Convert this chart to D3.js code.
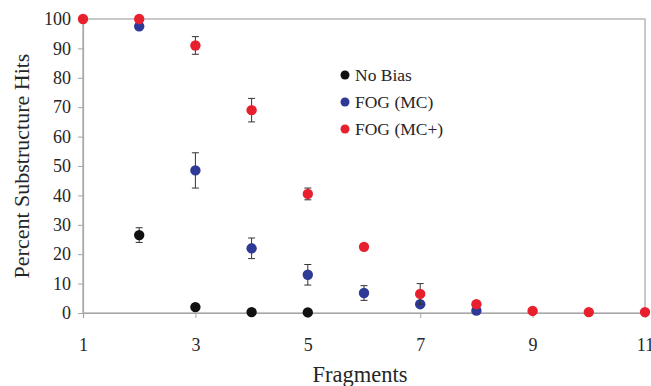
<!DOCTYPE html>
<html>
<head>
<meta charset="utf-8">
<script src="https://cdn.jsdelivr.net/npm/d3@7"></script>
<style>
  body { margin: 0; background: #fff; }
  svg text { font-family: "Liberation Serif", "Times New Roman", serif; }
</style>
</head>
<body>
<div id="chart"></div>
<script>
const xTicks = [1, 3, 5, 7, 9, 11];
const yTicks = [0, 10, 20, 30, 40, 50, 60, 70, 80, 90, 100];

const seriesNames = ["No Bias", "FOG (MC)", "FOG (MC+)"];
const seriesColors = ["#111111", "#2e3a96", "#e8202e"];

// [fragments, value, error]
const noBias = [
  [2, 26.5, 2.5],
  [3, 2, 1],
  [4, 0.3, 0],
  [5, 0.2, 0],
];
const fogMC = [
  [2, 97.5, 1],
  [3, 48.5, 6],
  [4, 22, 3.5],
  [5, 13, 3.5],
  [6, 6.8, 2.5],
  [7, 3, 1],
  [8, 0.8, 0.5],
];
const fogMCPlus = [
  [1, 100, 0],
  [2, 100, 0],
  [3, 91, 3],
  [4, 69, 4],
  [5, 40.5, 2],
  [6, 22.5, 0],
  [7, 6.5, 3.5],
  [8, 3, 0],
  [9, 0.7, 0],
  [10, 0.3, 0],
  [11, 0.3, 0],
];
const allSeries = [noBias, fogMC, fogMCPlus];

const width = 651;
const height = 386;
const margin = { top: 19, right: 6, bottom: 73, left: 83 };
const serif = "'Liberation Serif', 'Times New Roman', serif";

const x = d3.scaleLinear([1, 11], [margin.left, width - margin.right]);
const y = d3.scaleLinear([0, 100], [height - margin.bottom, margin.top]);

const svg = d3.select("#chart").append("svg")
  .attr("width", width)
  .attr("height", height)
  .attr("font-family", serif);

// frame
svg.append("rect")
  .attr("x", x(1))
  .attr("y", y(100))
  .attr("width", x(11) - x(1))
  .attr("height", y(0) - y(100))
  .attr("fill", "none")
  .attr("stroke", "#a6a6a6")
  .attr("stroke-width", 1.2);

const xAxis = svg.append("g")
  .attr("transform", `translate(0,${y(0)})`)
  .call(d3.axisBottom(x).tickValues(xTicks).tickSize(5).tickPadding(20).tickFormat(d3.format("d")));
const yAxis = svg.append("g")
  .attr("transform", `translate(${x(1)},0)`)
  .call(d3.axisLeft(y).tickValues(yTicks).tickSize(5).tickPadding(7));

[xAxis, yAxis].forEach(g => {
  g.attr("font-family", serif).attr("font-size", 18);
  g.select(".domain").attr("stroke", "#a6a6a6").attr("stroke-width", 1.2);
  g.selectAll(".tick line").attr("stroke", "#a6a6a6");
  g.selectAll("text").attr("fill", "#262626");
});

svg.append("text")
  .attr("x", 360)
  .attr("y", 382)
  .attr("text-anchor", "middle")
  .attr("fill", "#262626")
  .attr("font-size", 22.5)
  .text("Fragments");

svg.append("text")
  .attr("transform", `translate(29,166) rotate(-90)`)
  .attr("text-anchor", "middle")
  .attr("fill", "#262626")
  .attr("font-size", 22)
  .text("Percent Substructure Hits");

allSeries.forEach((data, i) => {
  const g = svg.append("g");
  const bars = g.selectAll("g.err")
    .data(data.filter(d => d[2] > 0))
    .join("g")
    .attr("class", "err")
    .attr("stroke", "#333")
    .attr("stroke-width", 1);
  bars.append("line")
    .attr("x1", d => x(d[0])).attr("x2", d => x(d[0]))
    .attr("y1", d => y(d[1] - d[2])).attr("y2", d => y(d[1] + d[2]));
  bars.append("line")
    .attr("x1", d => x(d[0]) - 3.5).attr("x2", d => x(d[0]) + 3.5)
    .attr("y1", d => y(d[1] + d[2])).attr("y2", d => y(d[1] + d[2]));
  bars.append("line")
    .attr("x1", d => x(d[0]) - 3.5).attr("x2", d => x(d[0]) + 3.5)
    .attr("y1", d => y(d[1] - d[2])).attr("y2", d => y(d[1] - d[2]));
  g.selectAll("circle")
    .data(data)
    .join("circle")
    .attr("cx", d => x(d[0]))
    .attr("cy", d => y(d[1]))
    .attr("r", 5.2)
    .attr("fill", seriesColors[i]);
});

const legend = svg.append("g").attr("transform", "translate(345,75)");
legend.selectAll("g")
  .data(seriesNames)
  .join("g")
  .attr("transform", (d, i) => `translate(0,${i * 27})`)
  .each(function (d, i) {
    const item = d3.select(this);
    item.append("circle").attr("r", 4.5).attr("fill", seriesColors[i]);
    item.append("text")
      .attr("x", 10)
      .attr("y", 6)
      .attr("fill", "#262626")
      .attr("font-size", 17.5)
      .text(d);
  });
</script>
</body>
</html>
